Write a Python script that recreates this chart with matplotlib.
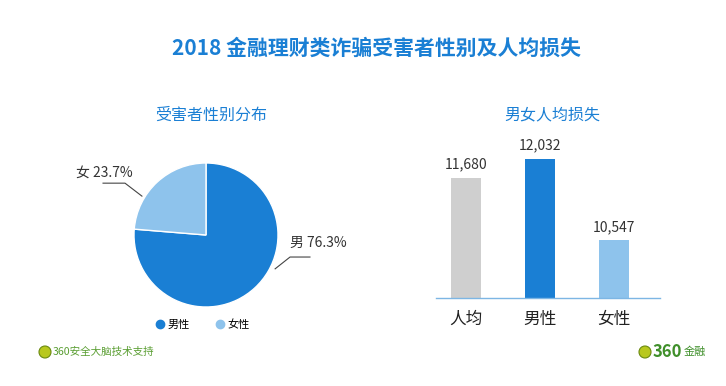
import numpy as np
import matplotlib.pyplot as plt
from matplotlib.lines import Line2D
from matplotlib.patches import Ellipse

plt.rcParams['font.family'] = ['Noto Sans CJK SC', 'DejaVu Sans']

# 数据
title = "2018 金融理财类诈骗受害者性别及人均损失"
pie_labels = ["男", "女"]
pie_legend = ["男性", "女性"]
pie_values = [76.3, 23.7]
bar_cats = ["人均", "男性", "女性"]
bar_values = [11680, 12032, 10547]

BLUE = "#1a7fd4"
LIGHT = "#8ec3ec"
GRAY = "#cfcfcf"
GREEN = "#5a9e32"

W, H = 726, 386
fig = plt.figure(figsize=(W / 100, H / 100), dpi=100)
fig.patch.set_facecolor("white")


def box(x0, y0, x1, y1):
    # 像素坐标(左上原点) -> figure 比例
    return [x0 / W, 1 - y1 / H, (x1 - x0) / W, (y1 - y0) / H]


fig.text(376 / W, 1 - 48 / H, title, ha="center", va="center",
         fontsize=15, fontweight="bold", color=BLUE)
fig.text(211 / W, 1 - 115 / H, "受害者性别分布", ha="center", va="center",
         fontsize=11.5, color=BLUE)
fig.text(552 / W, 1 - 115 / H, "男女人均损失", ha="center", va="center",
         fontsize=11.5, color=BLUE)

# 饼图
ax1 = fig.add_axes(box(134, 163, 278, 307))
ax1.pie(pie_values, colors=[BLUE, LIGHT], startangle=90, counterclock=False,
        radius=1, wedgeprops=dict(linewidth=1, edgecolor="white"))
ax1.set_xlim(-1, 1)
ax1.set_ylim(-1, 1)
ax1.set_aspect("equal")
ax1.axis("off")

lbl = [f"{n} {v}%" for n, v in zip(pie_labels, pie_values)]
ax1.plot([-0.89, -1.125, -1.43], [0.54, 0.72, 0.72], color="#444444", lw=0.8, clip_on=False)
ax1.text(-1.8, 0.87, lbl[1], ha="left", va="center", fontsize=10, color="#333333")
ax1.plot([0.96, 1.167, 1.444], [-0.47, -0.306, -0.306], color="#444444", lw=0.8, clip_on=False)
ax1.text(1.167, -0.11, lbl[0], ha="left", va="center", fontsize=10, color="#333333")

handles = [Line2D([], [], marker="o", ls="none", color=c, markersize=6)
           for c in [BLUE, LIGHT]]
fig.legend(handles, pie_legend, loc="center", bbox_to_anchor=(202 / W, 1 - 325 / H),
           ncol=2, frameon=False, fontsize=8, handletextpad=0.2, columnspacing=2.2,
           handlelength=1)

# 柱状图
ax2 = fig.add_axes(box(436, 130, 660, 298))
x = np.arange(len(bar_cats))
ax2.bar(x, bar_values, width=0.405, color=[GRAY, BLUE, LIGHT])
ax2.set_ylim(9500, 12555)
ax2.set_xlim(-0.405, 2.62)
for s in ["top", "right", "left"]:
    ax2.spines[s].set_visible(False)
ax2.spines["bottom"].set_color("#7db6e4")
ax2.spines["bottom"].set_linewidth(1)
ax2.set_yticks([])
ax2.set_xticks(x)
ax2.set_xticklabels(bar_cats, fontsize=12, color="#222222")
ax2.tick_params(axis="x", length=0, pad=9)
for xi, v in zip(x, bar_values):
    ax2.text(xi, v + 120, f"{v:,}", ha="center", va="bottom", fontsize=10, color="#333333")


# 页脚
def logo(cx, cy):
    fig.patches.append(Ellipse((cx / W, 1 - cy / H), 12 / W, 12 / H,
                               transform=fig.transFigure,
                               facecolor="#b8c81e", edgecolor="#6a8a10", lw=0.8))


logo(45, 352)
fig.text(53 / W, 1 - 352 / H, "360安全大脑技术支持", ha="left", va="center",
         fontsize=7.6, color=GREEN)
logo(645, 352)
fig.text(653 / W, 1 - 352 / H, "360", ha="left", va="center",
         fontsize=12, fontweight="bold", color="#3f8f2a")
fig.text(684 / W, 1 - 352 / H, "金融", ha="left", va="center",
         fontsize=8, color="#3f8f2a")

fig.savefig("out.png", dpi=100)
